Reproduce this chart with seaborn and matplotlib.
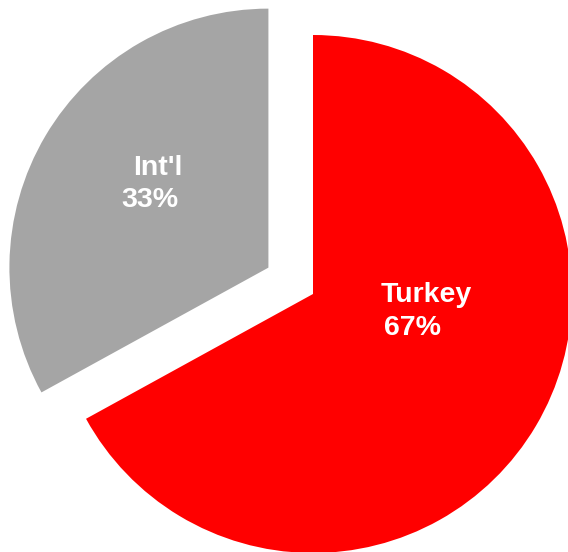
import matplotlib
matplotlib.use("Agg")
import matplotlib.pyplot as plt
import seaborn as sns

# Revenue split
categories = ["Turkey", "Int'l"]
shares = [67, 33]
pct_labels = ["67%", "33%"]
colors = ["#FF0000", "#A5A5A5"]
explode = [0.0, 0.2]

sns.set_theme(style="white")
plt.rcParams["font.family"] = ["Liberation Sans", "DejaVu Sans"]

W, H, DPI = 568, 552, 100
fig = plt.figure(figsize=(W / DPI, H / DPI), dpi=DPI)
ax = fig.add_axes([0, 0, 1, 1])

# pie centre and radius in pixels
cx, cy, R = 313, 294, 259

ax.pie(shares, colors=colors, explode=explode, startangle=90,
       counterclock=False, radius=1.0,
       wedgeprops=dict(linewidth=0, antialiased=True))

ax.set_xlim(-cx / R, (W - cx) / R)
ax.set_ylim(-(H - cy) / R, cy / R)
ax.set_aspect("auto")
ax.axis("off")


def px(x, y):
    return (x - cx) / R, (cy - y) / R


# name and percentage label positions (left edge, baseline) in pixels
label_pos = {"Turkey": [(381, 302), (384, 335)],
             "Int'l": [(133, 175), (121, 207)]}

for name, pct in zip(categories, pct_labels):
    (nx, ny), (px_, py_) = label_pos[name]
    ax.text(*px(nx, ny), name, color="white", fontsize=20.5, fontweight="bold",
            ha="left", va="baseline")
    ax.text(*px(px_, py_), pct, color="white", fontsize=20.5, fontweight="bold",
            ha="left", va="baseline")

fig.savefig("out.png", dpi=DPI, facecolor="white")
